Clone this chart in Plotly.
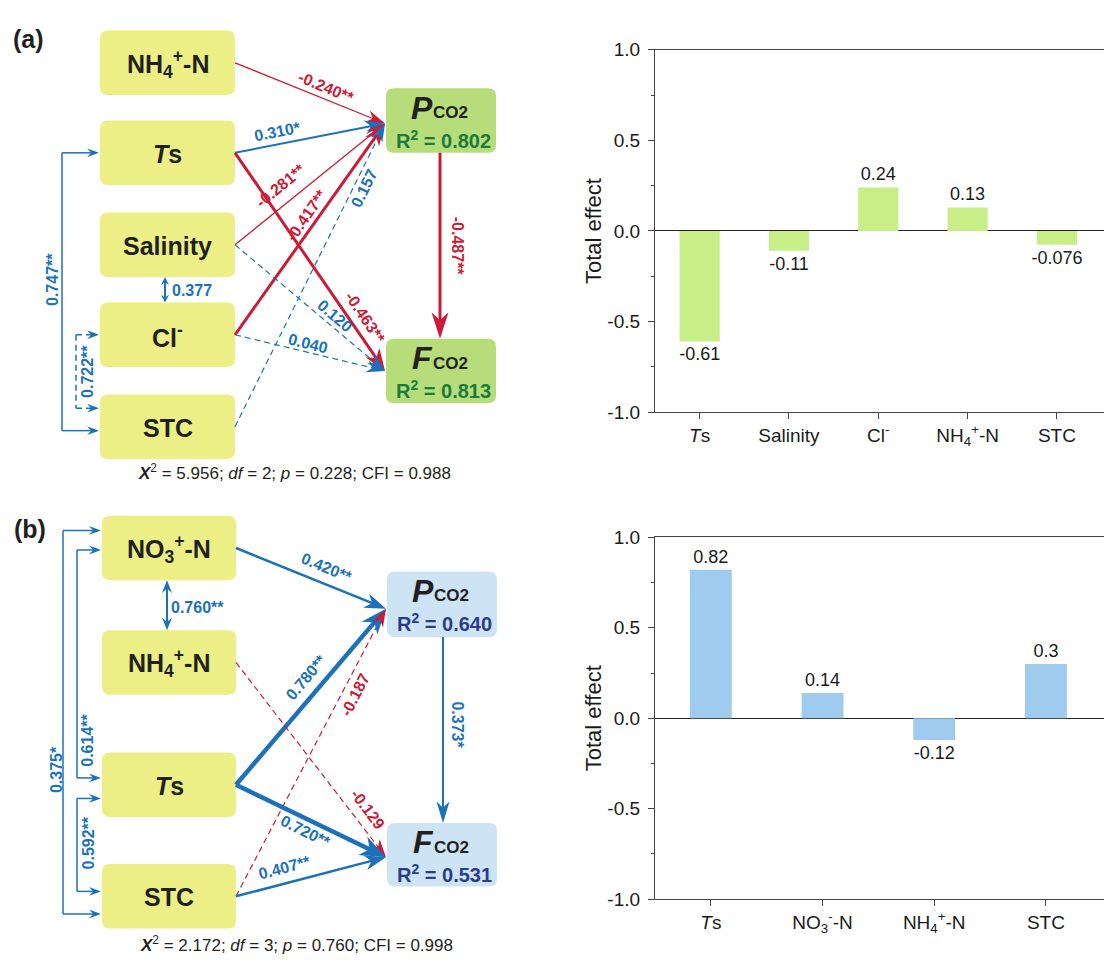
import math
import plotly.graph_objects as go

W, H = 1104, 965
FONT = "Arial, Liberation Sans, sans-serif"

# ---------------- total-effect bar data ----------------
bar_a_labels = ["<i>T</i>s", "Salinity", "Cl<sup>-</sup>", "NH<sub>4</sub><sup>+</sup>-N", "STC"]
bar_a_values = [-0.61, -0.11, 0.24, 0.13, -0.076]
bar_b_labels = ["<i>T</i>s", "NO<sub>3</sub><sup>-</sup>-N", "NH<sub>4</sub><sup>+</sup>-N", "STC"]
bar_b_values = [0.82, 0.14, -0.12, 0.3]
y_tick_vals = [-1.0, -0.5, 0.0, 0.5, 1.0]
y_tick_text = ["-1.0", "-0.5", "0.0", "0.5", "1.0"]

# ---------------- SEM (a) ----------------
a_nodes = ["NH4", "Ts", "Sal", "Cl", "STC"]
a_node_text = ["NH<sub>4</sub><sup>+</sup>-N", "<i>T</i>s", "Salinity", "Cl<sup>-</sup>", "STC"]
a_path_from = ["NH4", "Ts", "Sal", "Cl", "STC", "Ts", "Sal", "Cl", "P"]
a_path_to = ["P", "P", "P", "P", "P", "F", "F", "F", "F"]
a_path_coef = [-0.240, 0.310, -0.281, -0.417, 0.157, -0.463, 0.120, 0.040, -0.487]
a_path_sig = ["**", "*", "**", "**", "", "**", "", "", "**"]
a_cor_from = ["Ts", "Cl", "Sal"]
a_cor_to = ["STC", "STC", "Cl"]
a_cor_coef = [0.747, 0.722, 0.377]
a_cor_sig = ["**", "**", ""]
a_r2 = [0.802, 0.813]
a_fit = [5.956, 2, 0.228, 0.988]

# ---------------- SEM (b) ----------------
b_nodes = ["NO3", "NH4", "Ts", "STC"]
b_node_text = ["NO<sub>3</sub><sup>+</sup>-N", "NH<sub>4</sub><sup>+</sup>-N", "<i>T</i>s", "STC"]
b_path_from = ["NO3", "Ts", "STC", "NH4", "Ts", "STC", "P"]
b_path_to = ["P", "P", "P", "F", "F", "F", "F"]
b_path_coef = [0.420, 0.780, -0.187, -0.129, 0.720, 0.407, 0.373]
b_path_sig = ["**", "**", "", "", "**", "**", "*"]
b_cor_from = ["NO3", "NO3", "Ts", "NO3"]
b_cor_to = ["STC", "Ts", "STC", "NH4"]
b_cor_coef = [0.375, 0.614, 0.592, 0.760]
b_cor_sig = ["*", "**", "**", "**"]
b_r2 = [0.640, 0.531]
b_fit = [2.172, 3, 0.760, 0.998]

# ---------------- colours ----------------
RED = "#cc1b36"
BLUE = "#1b72bb"
TXT = "#231f20"
YELLOW = "#ebef85"
GREEN_BOX = "#b7dc7a"
BLUE_BOX = "#cde4f5"
R2_GREEN = "#1b7b3c"
R2_NAVY = "#2b3a8f"
BAR_GREEN = "#c8ee88"
BAR_BLUE = "#9fcbee"

# ---------------- layout geometry (pixels) ----------------
A = dict(
    px0=100, px1=235,
    cy=dict(NH4=54, Ts=146, Sal=240, Cl=332, STC=426),
    P=(386, 80, 496, 146), F=(386, 336, 496, 402),
    P_in=(385, 116), F_in=(385, 369), PF_x=440,
    path_w=[1.3, 2.0, 1.3, 3.0, 1.2, 3.0, 1.2, 1.2, 3.0],
    path_dash=[False, False, False, False, True, False, True, True, False],
    lab_t=[0.58, 0.30, 0.38, 0.54, 0.80, 0.79, 0.62, 0.47, 0.50],
    lab_off=[12, 13, 18, 11, -10, 14, 10, 9, 17],
    cor_x=[62, 76, 165], cor_dash=[False, True, False],
    cor_y=[(146, 430), (332, 407), (273, 299)],
    cor_lab=[(53, 276, -90), (88, 370, -90), (192, 287, 0)],
    tag=(28, 30, "(a)"), fit_pos=(294, 472),
    box_fill=GREEN_BOX, r2_col=R2_GREEN,
)
B = dict(
    px0=102, px1=236,
    cy=dict(NO3=550, NH4=667, Ts=792, STC=906),
    P=(387, 574, 497, 641), F=(387, 831, 497, 896),
    P_in=(386, 612), F_in=(386, 866), PF_x=443,
    path_w=[2.5, 4.5, 1.2, 1.2, 4.5, 2.5, 2.0],
    path_dash=[False, False, True, True, False, False, False],
    lab_t=[0.56, 0.55, 0.72, 0.80, 0.50, 0.35, 0.47],
    lab_off=[16, 16, -13, 15, -12, 16, 15],
    cor_x=[63, 77, 77, 167], cor_dash=[False, False, False, False],
    cor_y=[(532, 924), (552, 785), (806, 901), (583, 634)],
    cor_lab=[(56, 777, -90), (88, 747, -90), (88, 852, -90), (197, 611, 0)],
    tag=(30, 531, "(b)"), fit_pos=(296, 955),
    box_fill=BLUE_BOX, r2_col=R2_NAVY,
)

shapes = []
annotations = []


def rrect(x0, y0, x1, y1, r=8):
    return (f"M{x0 + r},{y0} L{x1 - r},{y0} Q{x1},{y0} {x1},{y0 + r} "
            f"L{x1},{y1 - r} Q{x1},{y1} {x1 - r},{y1} L{x0 + r},{y1} "
            f"Q{x0},{y1} {x0},{y1 - r} L{x0},{y0 + r} Q{x0},{y0} {x0 + r},{y0} Z")


def add_box(x0, y0, x1, y1, fill):
    shapes.append(dict(type="path", path=rrect(x0, y0, x1, y1), xref="x", yref="y",
                       fillcolor=fill, line=dict(width=0), layer="below"))


def text(x, y, s, size, color=TXT, angle=0, xanchor="center", yanchor="middle"):
    annotations.append(dict(x=x, y=y, xref="x", yref="y", text=s, showarrow=False,
                            font=dict(family=FONT, size=size, color=color),
                            textangle=angle, xanchor=xanchor, yanchor=yanchor,
                            borderpad=0))


def head(tip, ux, uy, L, Wd, color, notch=0.3):
    px, py = -uy, ux
    bx, by = tip[0] - ux * L, tip[1] - uy * L
    nx, ny = tip[0] - ux * L * (1 - notch), tip[1] - uy * L * (1 - notch)
    p = (f"M{tip[0]:.2f},{tip[1]:.2f} L{bx + px * Wd / 2:.2f},{by + py * Wd / 2:.2f} "
         f"L{nx:.2f},{ny:.2f} L{bx - px * Wd / 2:.2f},{by - py * Wd / 2:.2f} Z")
    shapes.append(dict(type="path", path=p, xref="x", yref="y", fillcolor=color,
                       line=dict(width=0)))


def seg(x0, y0, x1, y1, color, width, dash=False):
    shapes.append(dict(type="line", x0=x0, y0=y0, x1=x1, y1=y1, xref="x", yref="y",
                       line=dict(color=color, width=width, dash="6px,4px" if dash else "solid")))


def arrow(s, e, color, width, dash=False, L=None, Wd=None):
    dx, dy = e[0] - s[0], e[1] - s[1]
    n = math.hypot(dx, dy)
    ux, uy = dx / n, dy / n
    L = L if L is not None else 16 + 2.2 * width
    Wd = Wd if Wd is not None else 9 + 2.6 * width
    stop = (e[0] - ux * L * 0.6, e[1] - uy * L * 0.6)
    seg(s[0], s[1], stop[0], stop[1], color, width, dash)
    return ux, uy, L, Wd


def fmt(c, sig):
    return f"<b>{c:.3f}{sig}</b>"


def draw_panel(G, nodes, node_text, pf, pt, pc, ps, cf, ct, cc, cs, r2, fit):
    # predictor boxes
    for key, label in zip(nodes, node_text):
        cy = G["cy"][key]
        add_box(G["px0"], cy - 33, G["px1"], cy + 33, YELLOW)
        text((G["px0"] + G["px1"]) / 2, cy + 1, f"<b>{label}</b>", 25)
    # response boxes
    for key, sym, r in (("P", "P", r2[0]), ("F", "F", r2[1])):
        x0, y0, x1, y1 = G[key]
        add_box(x0, y0, x1, y1, G["box_fill"])
        cx = (x0 + x1) / 2
        text(cx - 7, y0 + 20, f"<b><i>{sym}</i></b>", 32, xanchor="right")
        text(cx - 9, y0 + 25, "<b>CO2</b>", 17, xanchor="left")
        text(cx + 2, y0 + 52, f"<b>R<sup>2</sup> = {r:.3f}</b>", 20, color=G["r2_col"])
    # directed paths
    tips = []
    for i, (f, t, c, sg) in enumerate(zip(pf, pt, pc, ps)):
        col = RED if c < 0 else BLUE
        w = G["path_w"][i]
        if f == "P":
            s = (G["PF_x"], G["P"][3])
            e = (G["PF_x"], G["F"][1])
            L, Wd = (27, 17) if w >= 3 else (22, 13)
            ux, uy, L, Wd = arrow(s, e, col, w, G["path_dash"][i], L, Wd)
        else:
            s = (G["px1"], G["cy"][f])
            e = G["P_in"] if t == "P" else G["F_in"]
            ux, uy, L, Wd = arrow(s, e, col, w, G["path_dash"][i])
        tips.append((e, ux, uy, L, Wd, col))
        tt = G["lab_t"][i]
        off = G["lab_off"][i]
        lx = s[0] + (e[0] - s[0]) * tt + uy * off
        ly = s[1] + (e[1] - s[1]) * tt - ux * off
        ang = math.degrees(math.atan2(uy, ux))
        text(lx, ly, fmt(c, sg), 16, color=col, angle=ang)
    for e, ux, uy, L, Wd, col in tips:
        head(e, ux, uy, L, Wd, col)
    # correlations (brackets on the left / short double arrows)
    for i, (f, t, c, sg) in enumerate(zip(cf, ct, cc, cs)):
        x = G["cor_x"][i]
        ya, yb = G["cor_y"][i]
        dash = G["cor_dash"][i]
        if x < G["px0"]:
            seg(x, ya, x, yb, BLUE, 1.5, dash)
            for yy in (ya, yb):
                seg(x, yy, G["px0"] - 6, yy, BLUE, 1.5, dash)
                head((G["px0"] - 1, yy), 1, 0, 12, 9, BLUE, notch=0.35)
        else:
            small = (yb - ya) < 40
            Lh, Wh = (8, 8) if small else (13, 10)
            seg(x, ya + Lh * 0.6, x, yb - Lh * 0.6, BLUE, 2.0)
            head((x, ya), 0, -1, Lh, Wh, BLUE, notch=0.35)
            head((x, yb), 0, 1, Lh, Wh, BLUE, notch=0.35)
        lx, ly, ang = G["cor_lab"][i]
        text(lx, ly, fmt(c, sg), 16, color=BLUE, angle=ang)
    # panel tag and fit statistics
    tx, ty, tag = G["tag"]
    text(tx, ty, f"<b>{tag}</b>", 25)
    chi2, df, p, cfi = fit
    text(G["fit_pos"][0], G["fit_pos"][1],
         f"<b><i>X</i></b><sup>2</sup> = {chi2:.3f}; <i>df</i> = {df}; "
         f"<i>p</i> = {p:.3f}; CFI = {cfi:.3f}", 17)


draw_panel(A, a_nodes, a_node_text, a_path_from, a_path_to, a_path_coef, a_path_sig,
           a_cor_from, a_cor_to, a_cor_coef, a_cor_sig, a_r2, a_fit)
draw_panel(B, b_nodes, b_node_text, b_path_from, b_path_to, b_path_coef, b_path_sig,
           b_cor_from, b_cor_to, b_cor_coef, b_cor_sig, b_r2, b_fit)

# y-axis titles of the bar charts
text(593, 226, "Total effect", 22, color="#1a1a1a", angle=-90)
text(593, 724, "Total effect", 22, color="#1a1a1a", angle=-90)

fig = go.Figure()
# invisible anchor trace for the pixel-space drawing axes
fig.add_trace(go.Scatter(x=[0], y=[0], mode="markers", marker=dict(opacity=0),
                         hoverinfo="skip", showlegend=False, xaxis="x", yaxis="y"))

fig.add_trace(go.Bar(x=list(range(len(bar_a_values))), y=bar_a_values,
                     text=[str(v) for v in bar_a_values], textposition="outside",
                     constraintext="none", cliponaxis=False, width=0.45,
                     textfont=dict(family=FONT, size=18, color="#1a1a1a"),
                     marker=dict(color=BAR_GREEN, line=dict(width=0)),
                     xaxis="x2", yaxis="y2", showlegend=False))
fig.add_trace(go.Bar(x=list(range(len(bar_b_values))), y=bar_b_values,
                     text=[str(v) for v in bar_b_values], textposition="outside",
                     constraintext="none", cliponaxis=False, width=0.375,
                     textfont=dict(family=FONT, size=18, color="#1a1a1a"),
                     marker=dict(color=BAR_BLUE, line=dict(width=0)),
                     xaxis="x3", yaxis="y3", showlegend=False))

x_left = 655 / W
dom_top = [1 - 411 / H, 1 - 40.7 / H]
dom_bot = [1 - 909 / H, 1 - 539 / H]


def yax(dom, anchor):
    return dict(domain=dom, anchor=anchor, range=[-1, 1], tickvals=y_tick_vals,
                ticktext=y_tick_text, ticks="outside", ticklen=6, tickwidth=1.2,
                tickcolor="#444", showline=True, linecolor="#444", linewidth=1.2,
                showgrid=False, zeroline=True, zerolinecolor="#222", zerolinewidth=1.2,
                minor=dict(tickvals=[-0.75, -0.25, 0.25, 0.75], ticks="outside",
                           ticklen=3, tickwidth=1.2, tickcolor="#444"),
                tickfont=dict(family=FONT, size=19, color="#1a1a1a"),
                ticklabelstandoff=4, fixedrange=True)


def xax(dom_anchor, n, labels, rng):
    return dict(domain=[x_left, 1], anchor=dom_anchor, range=rng,
                tickvals=list(range(n)), ticktext=labels, ticks="outside", ticklen=6,
                tickwidth=1.2, tickcolor="#444", showline=True, linecolor="#444",
                linewidth=1.2, mirror=True, showgrid=False, zeroline=False,
                tickfont=dict(family=FONT, size=19, color="#1a1a1a"), fixedrange=True)


fig.update_layout(
    width=W, height=H, margin=dict(l=0, r=0, t=0, b=0),
    paper_bgcolor="white", plot_bgcolor="rgba(0,0,0,0)",
    xaxis=dict(domain=[0, 1], range=[0, W], visible=False, fixedrange=True),
    yaxis=dict(domain=[0, 1], range=[H, 0], visible=False, fixedrange=True),
    xaxis2=xax("y2", len(bar_a_values), bar_a_labels, [-0.5, 4.527]),
    yaxis2=yax(dom_top, "x2"),
    xaxis3=xax("y3", len(bar_b_values), bar_b_labels, [-0.5, 3.52]),
    yaxis3=yax(dom_bot, "x3"),
    shapes=shapes, annotations=annotations, showlegend=False,
    font=dict(family=FONT, color=TXT),
)

# page without body margin so the figure sits flush in the window
fig.write_html("out.html",
               post_script="document.body.style.margin='0';"
                           "document.body.style.overflow='hidden';")
